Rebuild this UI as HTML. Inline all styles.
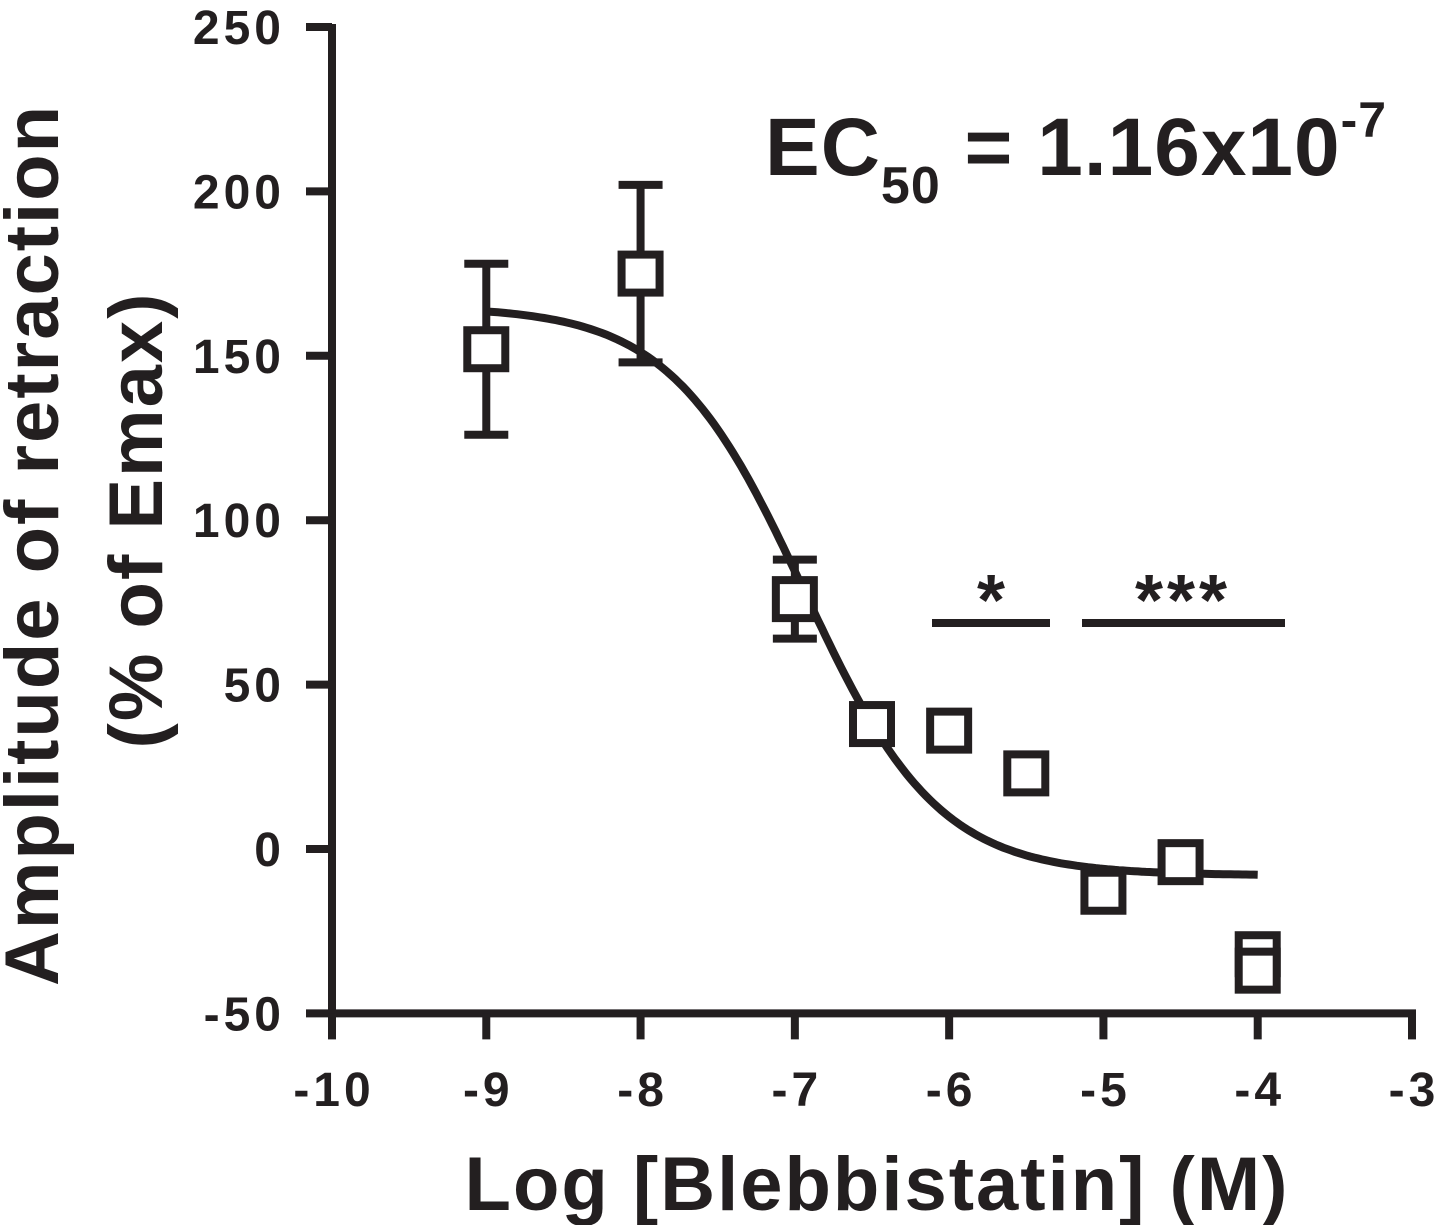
<!DOCTYPE html>
<html><head><meta charset="utf-8"><style>
html,body{margin:0;padding:0;background:#fff;}
svg{display:block;font-family:"Liberation Sans",Arial,sans-serif;font-weight:bold;}
</style></head><body>
<svg id="chart" width="1440" height="1225" viewBox="0 0 1440 1225" xmlns="http://www.w3.org/2000/svg">
<g id="axes"></g>
<g id="curve"></g>
<g id="points"></g>
<text x="765" y="175" font-size="82" fill="#231f20" letter-spacing="1">EC<tspan font-size="52" dy="28">50</tspan><tspan dy="-28"> = 1.16x10</tspan><tspan font-size="50" dy="-38">-7</tspan></text>
<text x="877" y="1210" font-size="76" text-anchor="middle" fill="#231f20" letter-spacing="2">Log [Blebbistatin] (M)</text>
<text transform="translate(58,545) rotate(-90)" font-size="76" text-anchor="middle" fill="#231f20" letter-spacing="2">Amplitude of retraction</text>
<text transform="translate(162,520) rotate(-90)" font-size="76" text-anchor="middle" fill="#231f20" letter-spacing="2">(% of Emax)</text>
<line x1="932" y1="623" x2="1050" y2="623" stroke="#231f20" stroke-width="8"/>
<text x="991" y="625" font-size="72" text-anchor="middle" fill="#231f20">*</text>
<line x1="1082" y1="623" x2="1285" y2="623" stroke="#231f20" stroke-width="8"/>
<text x="1183" y="625" font-size="72" text-anchor="middle" fill="#231f20" letter-spacing="4">***</text>
</svg>
<script>
const xTicks=[-10,-9,-8,-7,-6,-5,-4,-3];
const yTicks=[-50,0,50,100,150,200,250];
const logDose=[-9,-8,-7,-6.5,-6,-5.5,-5,-4.5,-4,-4];
const meanVals=[152,175,76,38,36,23,-13,-4,-32,-37];
const errVals=[26,27,12,0,0,0,0,0,0,0];
const fitTop=[165], fitBottom=[-8], fitLogEC50=[-6.94], fitHill=[1];
const NS='http://www.w3.org/2000/svg';
const col='#231f20';
function X(v){return 332+(v+10)*(1412-332)/7;}
function Y(v){return 849-v*(164.4/50);}
function mk(t,a,p){const e=document.createElementNS(NS,t);for(const k in a)e.setAttribute(k,a[k]);p.appendChild(e);return e;}
const ax=document.getElementById('axes');
let l=mk('line',{x1:332,y1:Y(250)-3,x2:332,y2:Y(-50)+4,stroke:col,'stroke-width':8},ax);


l=mk('line',{x1:328,y1:Y(-50),x2:X(-3)+4,y2:Y(-50),stroke:col,'stroke-width':8},ax);


yTicks.forEach(v=>{
 const t=mk('line',{x1:306,y1:Y(v),x2:332,y2:Y(v),stroke:col,'stroke-width':8},ax);
 
 
 const tx=mk('text',{x:285,y:Y(v)+17,'font-size':48,'text-anchor':'end',fill:col,'letter-spacing':4},ax);
 tx.textContent=v;
 
 
});
xTicks.forEach(v=>{
 const t=mk('line',{x1:X(v),y1:Y(-50),x2:X(v),y2:Y(-50)+26,stroke:col,'stroke-width':8},ax);
 
 
 const tx=mk('text',{x:X(v)+2,y:1106,'font-size':48,'text-anchor':'middle',fill:col,'letter-spacing':4},ax);
 tx.textContent=v;
 
 
});
const cg=document.getElementById('curve');
let d='';
for(let i=0;i<=200;i++){const x=-9+5*i/200;const y=fitBottom[0]+(fitTop[0]-fitBottom[0])/(1+Math.pow(10,(x-fitLogEC50[0])*fitHill[0]));d+=(i?'L':'M')+X(x).toFixed(1)+' '+Y(y).toFixed(1);}
const p=mk('path',{d:d,fill:'none',stroke:col,'stroke-width':8},cg);


const pg=document.getElementById('points');
logDose.forEach((x,i)=>{
 const cx=X(x),cy=Y(meanVals[i]);
 if(errVals[i]>0){
  const e=mk('path',{d:`M${cx} ${Y(meanVals[i]+errVals[i])}V${Y(meanVals[i]-errVals[i])}M${cx-22} ${Y(meanVals[i]+errVals[i])}H${cx+22}M${cx-22} ${Y(meanVals[i]-errVals[i])}H${cx+22}`,stroke:col,'stroke-width':8,fill:'none'},pg);
  
  
 }
 const r=mk('rect',{x:cx-19,y:cy-19,width:38,height:38,fill:'#fff',stroke:col,'stroke-width':8},pg);
 
 
});
</script>
</body></html>
